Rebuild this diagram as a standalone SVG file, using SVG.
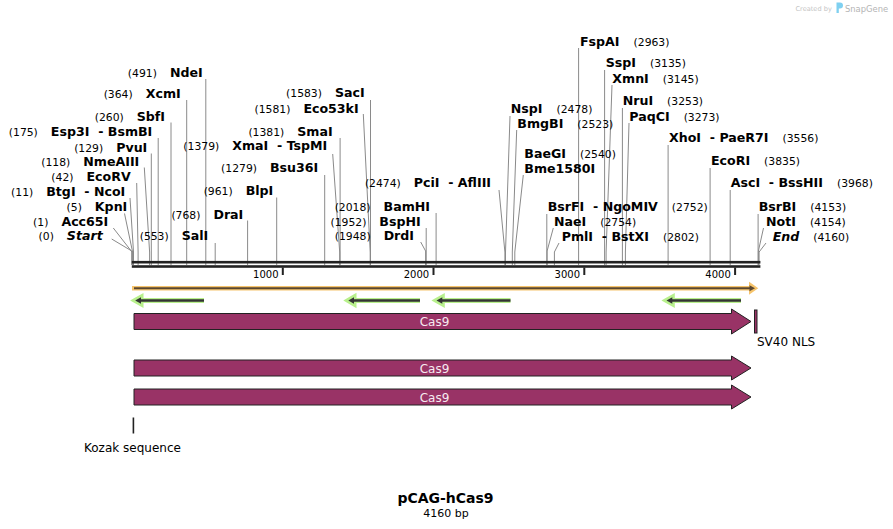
<svg xmlns="http://www.w3.org/2000/svg" width="893" height="529" viewBox="0 0 893 529">
<style>
text{font-family:"DejaVu Sans",Verdana,sans-serif;fill:#000}
.n{font-size:10.8px}
.b{font-size:12.6px;font-weight:bold}
.bi{font-size:12.6px;font-weight:bold;font-style:italic}
.cut{stroke:#8a8a8a;stroke-width:1;fill:none}
.rul{fill:#222}
.tk{font-size:10px}
.feat{fill:#993366;stroke:#222;stroke-width:1}
.flab{font-size:12px;fill:#f6eaf0}
.glow-g{fill:none;stroke:#b8f08c;stroke-width:5;stroke-linejoin:miter}
.core{fill:none;stroke:#333;stroke-width:2.3}
.glow-o{fill:none;stroke:#f6c46c;stroke-width:4.5}
</style>
<rect width="893" height="529" fill="#fff"/>
<g id="watermark">
<text x="795.5" y="11" style="font-size:6.6px;fill:#c4c4c4">Created by</text>
<path d="M836.5,2.5 h3.5 a3,3 0 0 1 0,6 h-1.2 v4.5 h-2.3 z" fill="#7fd0f0"/>
<text x="845" y="11.6" style="font-size:8.4px;fill:#b4b4b4">SnapGene</text>
</g>
<g id="connectors">
<polyline class="cut" points="205.8,79 205.8,265"/>
<polyline class="cut" points="186.7,100 186.7,265"/>
<polyline class="cut" points="171,122.5 171,265"/>
<polyline class="cut" points="158.2,138 158.2,265"/>
<polyline class="cut" points="151.3,153.5 151.3,265"/>
<polyline class="cut" points="144.3,167.5 149.6,252 149.6,265"/>
<polyline class="cut" points="136.7,183 138.1,252 138.1,265"/>
<polyline class="cut" points="130,198 133.5,252 133.5,265"/>
<polyline class="cut" points="124.5,213.5 132.6,252 132.6,265"/>
<polyline class="cut" points="113.3,228 132,252 132,265"/>
<polyline class="cut" points="111.7,239 131.8,251 131.8,265"/>
<polyline class="cut" points="215.2,243 215.2,265"/>
<polyline class="cut" points="247.6,220.5 247.6,265"/>
<polyline class="cut" points="276.7,197.5 276.7,265"/>
<polyline class="cut" points="324.7,175 324.7,265"/>
<polyline class="cut" points="332.7,154 339.7,252 339.7,265"/>
<polyline class="cut" points="340.1,138 340.1,265"/>
<polyline class="cut" points="363.3,114 370.2,252 370.2,265"/>
<polyline class="cut" points="370.5,100 370.5,265"/>
<polyline class="cut" points="436.1,213 436.1,265"/>
<polyline class="cut" points="426.2,228 426.2,265"/>
<polyline class="cut" points="420.7,242 425.6,251 425.6,265"/>
<polyline class="cut" points="499,190 504.9,252 504.9,265"/>
<polyline class="cut" points="578.6,48 578.6,265"/>
<polyline class="cut" points="604.6,70 604.6,265"/>
<polyline class="cut" points="612,85 606.1,252 606.1,265"/>
<polyline class="cut" points="622.4,108 622.4,265"/>
<polyline class="cut" points="629,123 625.4,252 625.4,265"/>
<polyline class="cut" points="668.1,145 668.1,265"/>
<polyline class="cut" points="710.1,168 710.1,265"/>
<polyline class="cut" points="730.2,190 730.2,265"/>
<polyline class="cut" points="758.1,214 758.1,265"/>
<polyline class="cut" points="763.5,228 758.4,251 758.4,265"/>
<polyline class="cut" points="766,243 759.1,252 759.1,265"/>
<polyline class="cut" points="510,116 505.5,252 505.5,265"/>
<polyline class="cut" points="516.7,130 512.3,252 512.3,265"/>
<polyline class="cut" points="523.3,175 514.8,252 514.8,265"/>
<polyline class="cut" points="546.8,214 546.8,265"/>
<polyline class="cut" points="553.3,228 547.1,251 547.1,265"/>
<polyline class="cut" points="559,243 554.4,252 554.4,265"/>
</g>
<g id="ruler">
<rect class="rul" x="131.8" y="260.9" width="628.6" height="2.6"/>
<rect class="rul" x="131.8" y="265.2" width="628.6" height="2.6"/>
<rect class="rul" x="281.8" y="267.5" width="2" height="7.5"/>
<rect class="rul" x="432.5" y="267.5" width="2" height="7.5"/>
<rect class="rul" x="583.3" y="267.5" width="2" height="7.5"/>
<rect class="rul" x="734.1" y="267.5" width="2" height="7.5"/>
<text class="tk" x="278.5" y="277.5" text-anchor="end">1000</text>
<text class="tk" x="429.2" y="277.5" text-anchor="end">2000</text>
<text class="tk" x="580" y="277.5" text-anchor="end">3000</text>
<text class="tk" x="730.8" y="277.5" text-anchor="end">4000</text>
</g>
<g id="site-labels">
<text x="202.7" y="77" text-anchor="end"><tspan class="n">(491)</tspan><tspan class="b" dx="13">NdeI</tspan></text>
<text x="180.7" y="97.5" text-anchor="end"><tspan class="n">(364)</tspan><tspan class="b" dx="13">XcmI</tspan></text>
<text x="165" y="120.5" text-anchor="end"><tspan class="n">(260)</tspan><tspan class="b" dx="13">SbfI</tspan></text>
<text x="152.3" y="136" text-anchor="end"><tspan class="n">(175)</tspan><tspan class="b" dx="13">Esp3I&#160; - BsmBI</tspan></text>
<text x="147.3" y="151.5" text-anchor="end"><tspan class="n">(129)</tspan><tspan class="b" dx="13">PvuI</tspan></text>
<text x="139.3" y="166" text-anchor="end"><tspan class="n">(118)</tspan><tspan class="b" dx="13">NmeAIII</tspan></text>
<text x="130.7" y="181" text-anchor="end"><tspan class="n">(42)</tspan><tspan class="b" dx="13">EcoRV</tspan></text>
<text x="125.3" y="196" text-anchor="end"><tspan class="n">(11)</tspan><tspan class="b" dx="13">BtgI&#160; - NcoI</tspan></text>
<text x="127.3" y="211" text-anchor="end"><tspan class="n">(5)</tspan><tspan class="b" dx="13">KpnI</tspan></text>
<text x="108.3" y="225.7" text-anchor="end"><tspan class="n">(1)</tspan><tspan class="b" dx="13">Acc65I</tspan></text>
<text x="102.7" y="240" text-anchor="end"><tspan class="n">(0)</tspan><tspan class="bi" dx="13">Start</tspan></text>
<text x="208.3" y="240" text-anchor="end"><tspan class="n">(553)</tspan><tspan class="b" dx="13">SalI</tspan></text>
<text x="243.3" y="218.5" text-anchor="end"><tspan class="n">(768)</tspan><tspan class="b" dx="13">DraI</tspan></text>
<text x="273.3" y="195" text-anchor="end"><tspan class="n">(961)</tspan><tspan class="b" dx="13">BlpI</tspan></text>
<text x="318.3" y="172.3" text-anchor="end"><tspan class="n">(1279)</tspan><tspan class="b" dx="13">Bsu36I</tspan></text>
<text x="327.3" y="150" text-anchor="end"><tspan class="n">(1379)</tspan><tspan class="b" dx="13">XmaI&#160; - TspMI</tspan></text>
<text x="332.7" y="135.7" text-anchor="end"><tspan class="n">(1381)</tspan><tspan class="b" dx="13">SmaI</tspan></text>
<text x="358.7" y="112.7" text-anchor="end"><tspan class="n">(1581)</tspan><tspan class="b" dx="13">Eco53kI</tspan></text>
<text x="364.7" y="97.3" text-anchor="end"><tspan class="n">(1583)</tspan><tspan class="b" dx="13">SacI</tspan></text>
<text x="430" y="210.7" text-anchor="end"><tspan class="n">(2018)</tspan><tspan class="b" dx="13">BamHI</tspan></text>
<text x="420.7" y="225.7" text-anchor="end"><tspan class="n">(1952)</tspan><tspan class="b" dx="13">BspHI</tspan></text>
<text x="414" y="240" text-anchor="end"><tspan class="n">(1948)</tspan><tspan class="b" dx="13">DrdI</tspan></text>
<text x="491" y="187.3" text-anchor="end"><tspan class="n">(2474)</tspan><tspan class="b" dx="13">PciI&#160; - AflIII</tspan></text>
<text x="580" y="45.7"><tspan class="b">FspAI</tspan><tspan class="n" dx="14">(2963)</tspan></text>
<text x="605.7" y="67.3"><tspan class="b">SspI</tspan><tspan class="n" dx="14">(3135)</tspan></text>
<text x="612.3" y="82.7"><tspan class="b">XmnI</tspan><tspan class="n" dx="14">(3145)</tspan></text>
<text x="622.7" y="105"><tspan class="b">NruI</tspan><tspan class="n" dx="14">(3253)</tspan></text>
<text x="629.3" y="120.7"><tspan class="b">PaqCI</tspan><tspan class="n" dx="14">(3273)</tspan></text>
<text x="669" y="142.3"><tspan class="b">XhoI&#160; - PaeR7I</tspan><tspan class="n" dx="14">(3556)</tspan></text>
<text x="711" y="165"><tspan class="b">EcoRI</tspan><tspan class="n" dx="14">(3835)</tspan></text>
<text x="730.7" y="187.3"><tspan class="b">AscI&#160; - BssHII</tspan><tspan class="n" dx="14">(3968)</tspan></text>
<text x="758.7" y="211"><tspan class="b">BsrBI</tspan><tspan class="n" dx="14">(4153)</tspan></text>
<text x="766" y="225.7"><tspan class="b">NotI</tspan><tspan class="n" dx="14">(4154)</tspan></text>
<text x="772.7" y="240.7"><tspan class="bi">End</tspan><tspan class="n" dx="14">(4160)</tspan></text>
<text x="510.7" y="113.3"><tspan class="b">NspI</tspan><tspan class="n" dx="14">(2478)</tspan></text>
<text x="517.3" y="127.7"><tspan class="b">BmgBI</tspan><tspan class="n" dx="14">(2523)</tspan></text>
<text x="524.3" y="157.7"><tspan class="b">BaeGI</tspan><tspan class="n" dx="14">(2540)</tspan></text>
<text x="524.3" y="172.7" class="b">Bme1580I</text>
<text x="547.7" y="211"><tspan class="b">BsrFI&#160; - NgoMIV</tspan><tspan class="n" dx="14">(2752)</tspan></text>
<text x="554" y="225.7"><tspan class="b">NaeI</tspan><tspan class="n" dx="14">(2754)</tspan></text>
<text x="561.7" y="240.7"><tspan class="b">PmlI&#160; - BstXI</tspan><tspan class="n" dx="14">(2802)</tspan></text>
</g>
<g id="orange-feature">
<path class="glow-o" d="M132,288.2 H750"/>
<path d="M750,283.6 L756.5,288.2 L750,292.8 Z" fill="#f6c46c" stroke="#f6c46c" stroke-width="2"/>
<path d="M134,288.2 H751" stroke="#5a4730" stroke-width="2" fill="none"/>
<path d="M749.5,285.2 L755,288.2 L749.5,291.2 Z" fill="#5a4730"/>
</g>
<g id="green-features">
<g>
<path class="glow-g" d="M137,300.5 H204 M135.2,300.5 L141,297.2 L141,303.8 Z"/>
<path class="core" d="M139,300.5 H204"/>
<path d="M135.2,300.5 L141,297.2 L141,303.8 Z" fill="#333"/>
</g>
<g>
<path class="glow-g" d="M350,300.5 H420 M348.3,300.5 L354,297.2 L354,303.8 Z"/>
<path class="core" d="M352,300.5 H420"/>
<path d="M348.3,300.5 L354,297.2 L354,303.8 Z" fill="#333"/>
</g>
<g>
<path class="glow-g" d="M438,300.5 H510.5 M436.5,300.5 L442.3,297.2 L442.3,303.8 Z"/>
<path class="core" d="M440,300.5 H510.5"/>
<path d="M436.5,300.5 L442.3,297.2 L442.3,303.8 Z" fill="#333"/>
</g>
<g>
<path class="glow-g" d="M668,300.5 H741 M666.5,300.5 L672.3,297.2 L672.3,303.8 Z"/>
<path class="core" d="M670,300.5 H741"/>
<path d="M666.5,300.5 L672.3,297.2 L672.3,303.8 Z" fill="#333"/>
</g>
</g>
<g id="cas9-1">
<path class="feat" d="M134,313.5 H731.5 V309 L751,321.5 L731.5,334 V329.5 H134 Z"/>
<text class="flab" x="434.5" y="326" text-anchor="middle">Cas9</text>
</g>
<g id="sv40-nls">
<rect class="feat" x="754.5" y="310" width="2.5" height="23"/>
<text x="757" y="346" style="font-size:12px">SV40 NLS</text>
</g>
<g id="cas9-2">
<path class="feat" d="M134,360 H731.5 V356 L751,368 L731.5,380 V376 H134 Z"/>
<text class="flab" x="434.5" y="372.5" text-anchor="middle">Cas9</text>
</g>
<g id="cas9-3">
<path class="feat" d="M134,389 H731.5 V385 L751,397 L731.5,409 V405 H134 Z"/>
<text class="flab" x="434.5" y="401.5" text-anchor="middle">Cas9</text>
</g>
<g id="kozak">
<rect x="132.6" y="417.5" width="1.6" height="16" fill="#222"/>
<text x="84" y="451.5" style="font-size:12px">Kozak sequence</text>
</g>
<g id="title">
<text x="445.5" y="503" text-anchor="middle" style="font-size:14px;font-weight:bold">pCAG-hCas9</text>
<text x="446" y="517" text-anchor="middle" style="font-size:11px">4160 bp</text>
</g>
</svg>
